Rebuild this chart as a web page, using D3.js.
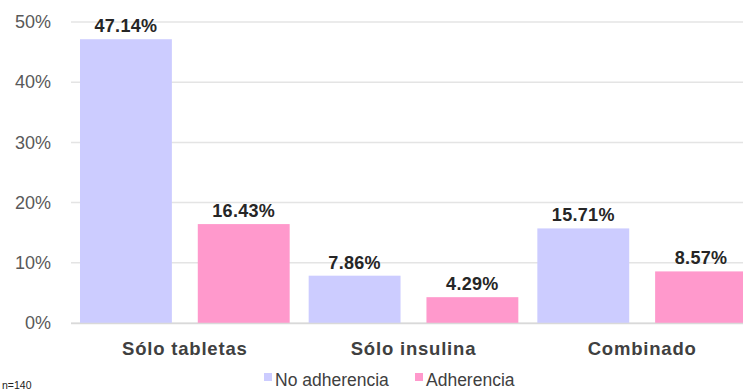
<!DOCTYPE html>
<html>
<head>
<meta charset="utf-8">
<script src="https://cdn.jsdelivr.net/npm/d3@7"></script>
<style>
  body { margin: 0; background: #fff; }
  text { font-family: "Liberation Sans", Arial, sans-serif; }
</style>
</head>
<body>
<div id="chart"></div>
<script>
// data
var categories = ["Sólo tabletas", "Sólo insulina", "Combinado"];
var seriesNames = ["No adherencia", "Adherencia"];
var noAdherencia = [47.14, 7.86, 15.71];
var adherencia = [16.43, 4.29, 8.57];
var yTicks = [0, 10, 20, 30, 40, 50];
var colors = ["#ccccff", "#ff99cc"];

var width = 743, height = 392;

var svg = d3.select("#chart").append("svg")
    .attr("width", width)
    .attr("height", height);

var plot = {left: 71, right: 757, top: 22, bottom: 323};

var x = d3.scaleBand()
    .domain(categories)
    .range([plot.left, plot.right])
    .paddingInner(0)
    .paddingOuter(0);

var x1 = d3.scaleBand()
    .domain(seriesNames)
    .range([9, x.bandwidth() - 10])
    .paddingInner(0.22)
    .paddingOuter(0);

var y = d3.scaleLinear()
    .domain([0, 50])
    .range([plot.bottom, plot.top]);

// gridlines
svg.append("g")
    .selectAll("line")
    .data(yTicks)
    .enter()
    .append("line")
    .attr("x1", plot.left)
    .attr("x2", width)
    .attr("y1", function(d) { return y(d); })
    .attr("y2", function(d) { return y(d); })
    .attr("stroke", "#e4e4e4")
    .attr("stroke-width", 1.5);

// y axis labels
var yAxis = d3.axisLeft(y)
    .tickValues(yTicks)
    .tickSize(0)
    .tickPadding(20)
    .tickFormat(function(d) { return d + "%"; });

svg.append("g")
    .attr("transform", "translate(" + plot.left + ",0)")
    .call(yAxis)
    .call(function(g) { g.select(".domain").remove(); })
    .selectAll("text")
    .attr("font-family", "Liberation Sans, Arial, sans-serif")
    .attr("font-size", 18)
    .attr("fill", "#595959");

// rows of bars
var rows = categories.map(function(c, i) {
    return {cat: c, values: [
        {series: seriesNames[0], value: noAdherencia[i]},
        {series: seriesNames[1], value: adherencia[i]}
    ]};
});

var groups = svg.selectAll("g.cat")
    .data(rows)
    .enter()
    .append("g")
    .attr("class", "cat")
    .attr("transform", function(d) { return "translate(" + x(d.cat) + ",0)"; });

groups.selectAll("rect")
    .data(function(d) { return d.values; })
    .enter()
    .append("rect")
    .attr("x", function(d) { return x1(d.series); })
    .attr("y", function(d) { return y(d.value); })
    .attr("width", x1.bandwidth())
    .attr("height", function(d) { return y(0) - y(d.value); })
    .attr("fill", function(d, i) { return colors[i]; });

groups.selectAll("text.val")
    .data(function(d) { return d.values; })
    .enter()
    .append("text")
    .attr("class", "val")
    .attr("x", function(d) { return x1(d.series) + x1.bandwidth() / 2; })
    .attr("y", function(d) { return y(d.value) - 7; })
    .attr("text-anchor", "middle")
    .attr("font-size", 18)
    .attr("font-weight", "bold")
    .attr("letter-spacing", 0.3)
    .attr("fill", "#262626")
    .text(function(d) { return d.value.toFixed(2) + "%"; });

// x axis line
svg.append("line")
    .attr("x1", plot.left)
    .attr("x2", width)
    .attr("y1", plot.bottom + 0.5)
    .attr("y2", plot.bottom + 0.5)
    .attr("stroke", "#d9d9d9")
    .attr("stroke-width", 1.5);

// category labels
svg.selectAll("text.cat")
    .data(categories)
    .enter()
    .append("text")
    .attr("class", "cat")
    .attr("x", function(d) { return x(d) + 9 + (x.bandwidth() - 19) / 2; })
    .attr("y", 355)
    .attr("text-anchor", "middle")
    .attr("font-size", 18.5)
    .attr("font-weight", "bold")
    .attr("letter-spacing", 0.8)
    .attr("fill", "#404040")
    .text(function(d) { return d; });

// legend
var legendX = [264, 415];
var legend = svg.selectAll("g.legend")
    .data(seriesNames)
    .enter()
    .append("g")
    .attr("class", "legend")
    .attr("transform", function(d, i) { return "translate(" + legendX[i] + ",0)"; });

legend.append("rect")
    .attr("x", 0)
    .attr("y", 373)
    .attr("width", 8)
    .attr("height", 8)
    .attr("fill", function(d, i) { return colors[i]; });

legend.append("text")
    .attr("x", 11)
    .attr("y", 386)
    .attr("font-size", 17.5)
    .attr("fill", "#404040")
    .text(function(d) { return d; });

// sample size note
svg.append("text")
    .attr("x", 2)
    .attr("y", 389)
    .attr("font-size", 10.5)
    .attr("fill", "#222")
    .text("n=140");
</script>
</body>
</html>
